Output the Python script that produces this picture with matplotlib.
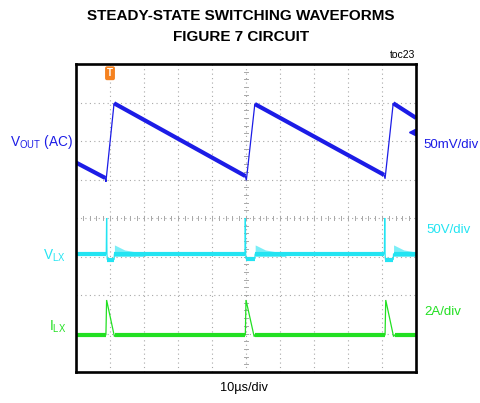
"""Steady-state switching waveforms (scope capture style)."""

import matplotlib
matplotlib.use("Agg")
import matplotlib.pyplot as plt

plt.rcParams["font.family"] = ["Liberation Sans", "DejaVu Sans"]
plt.rcParams["mathtext.default"] = "regular"

# ---- data (x in divisions 0..10, y in divisions 0..8) ----
VOUT_X = [0.00, 0.86, 0.88, 1.12, 4.98, 5.01, 5.26, 9.06, 9.09, 9.33, 10.00]
VOUT_Y = [5.44, 5.04, 4.94, 6.98, 5.09, 4.98, 6.96, 5.12, 5.02, 6.98, 6.60]
VOUT_THICK = [(0, 1), (3, 4), (6, 7), (9, 10)]

VLX_X = [0.00, 0.89, 0.90, 0.91, 0.92, 1.12, 1.13, 4.97, 4.98, 4.99, 5.00,
         5.26, 5.27, 9.07, 9.08, 9.09, 9.10, 9.33, 9.34, 10.00]
VLX_Y = [3.07, 3.07, 4.00, 3.07, 2.92, 2.92, 3.07, 3.07, 4.00, 3.07, 2.94,
         2.94, 3.07, 3.07, 4.00, 3.07, 2.92, 2.92, 3.07, 3.07]
VLX_THICK = [(0, 1), (4, 5), (6, 7), (10, 11), (12, 13), (16, 17), (18, 19)]

# ringing envelope after each switching edge
RING_START = [1.13, 5.27, 9.34]
RING_DX = [0.00, 0.05, 0.30, 0.90]
RING_TOP = [3.30, 3.28, 3.17, 3.08]

ILX_X = [0.00, 0.88, 0.90, 1.13, 1.16, 4.98, 5.00, 5.24, 5.27, 9.09, 9.11,
         9.34, 9.37, 10.00]
ILX_Y = [0.96, 0.96, 1.87, 0.92, 0.96, 0.96, 1.87, 0.92, 0.96, 0.96, 1.87,
         0.92, 0.96, 0.96]
ILX_THICK = [(0, 1), (4, 5), (8, 9), (12, 13)]

C_VOUT = "#1c1ce6"
C_VLX = "#22e4f2"
C_ILX = "#22e022"
C_GRID = "#a8a8a8"


def draw_trace(ax, xs, ys, thick, color):
    ax.plot(xs, ys, color=color, linewidth=0.9, solid_joinstyle="miter")
    for i0, i1 in thick:
        ax.plot(xs[i0:i1 + 1], ys[i0:i1 + 1], color=color, linewidth=3.0,
                solid_capstyle="butt")


def draw_graticule(ax):
    for gx in range(1, 10):
        ax.axvline(gx, color=C_GRID, linewidth=0.8, linestyle=(0, (1, 3)))
    for gy in range(1, 8):
        ax.axhline(gy, color=C_GRID, linewidth=0.8, linestyle=(0, (1, 3)))
    # centre axes with minor ticks
    for k in range(1, 50):
        x = k * 0.2
        ax.plot([x, x], [3.95, 4.05], color=C_GRID, linewidth=0.7)
    for k in range(1, 40):
        y = k * 0.2
        ax.plot([4.94, 5.06], [y, y], color=C_GRID, linewidth=0.7)


def main():
    fig = plt.figure(figsize=(4.8, 4.03), dpi=100)
    ax = fig.add_axes([76 / 480, 1 - 372 / 403, 340 / 480, 308 / 403])
    ax.set_xlim(0, 10)
    ax.set_ylim(0, 8)
    ax.set_xticks([])
    ax.set_yticks([])
    for sp in ax.spines.values():
        sp.set_linewidth(1.9)

    draw_graticule(ax)

    for x0 in RING_START:
        ax.fill_between([x0 + d for d in RING_DX], 3.0, RING_TOP,
                        color=C_VLX, linewidth=0, alpha=0.6)
    draw_trace(ax, VLX_X, VLX_Y, VLX_THICK, C_VLX)
    draw_trace(ax, ILX_X, ILX_Y, ILX_THICK, C_ILX)
    draw_trace(ax, VOUT_X, VOUT_Y, VOUT_THICK, C_VOUT)

    # trigger marker and ground reference marker
    ax.text(1.0, 7.76, "T", color="white", fontsize=7, fontweight="bold",
            ha="center", va="center",
            bbox=dict(boxstyle="round,pad=0.2", fc="#f58220", ec="none"))
    ax.plot([9.88], [6.23], marker="<", color=C_VOUT, markersize=5,
            clip_on=False)

    # titles and labels
    fig.text(241 / 480, 1 - 16 / 403, "STEADY-STATE SWITCHING WAVEFORMS",
             ha="center", va="center", fontsize=11, fontweight="bold")
    fig.text(241 / 480, 1 - 37 / 403, "FIGURE 7 CIRCUIT",
             ha="center", va="center", fontsize=11, fontweight="bold")
    fig.text(415 / 480, 1 - 55 / 403, "toc23", ha="right", va="center",
             fontsize=7.5)

    fig.text(10 / 480, 1 - 142 / 403, r"V$_{OUT}$ (AC)", color=C_VOUT,
             ha="left", va="center", fontsize=9.8)
    fig.text(66 / 480, 1 - 256 / 403, r"V$_{LX}$", color=C_VLX,
             ha="right", va="center", fontsize=9.8)
    fig.text(66 / 480, 1 - 327 / 403, r"I$_{LX}$", color=C_ILX,
             ha="right", va="center", fontsize=9.8)

    fig.text(423 / 480, 1 - 145 / 403, "50mV/div", color=C_VOUT,
             ha="left", va="center", fontsize=9.5)
    fig.text(426 / 480, 1 - 230 / 403, "50V/div", color=C_VLX,
             ha="left", va="center", fontsize=9.5)
    fig.text(424 / 480, 1 - 312 / 403, "2A/div", color=C_ILX,
             ha="left", va="center", fontsize=9.5)
    fig.text(244 / 480, 1 - 388 / 403, "10µs/div", ha="center", va="center",
             fontsize=9.2)

    fig.savefig("out.png", dpi=100)


if __name__ == "__main__":
    main()
